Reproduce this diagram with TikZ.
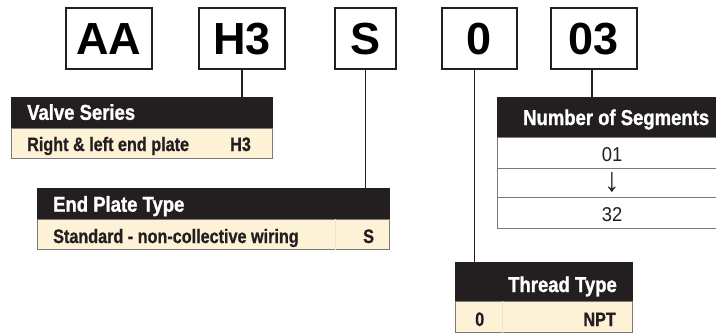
\documentclass[tikz,border=0pt]{standalone}
\usepackage{fontspec}
\setmainfont{Liberation Sans}
\newfontfamily\bigfont{Liberation Sans}
\newfontfamily\hdrfont{Liberation Sans}[FakeStretch=0.86,FakeBold=1.2]
\newfontfamily\rowfont{Liberation Sans}[FakeStretch=0.83,FakeBold=0.8]
\newfontfamily\numfont{Liberation Sans}[FakeStretch=0.92]
\definecolor{hdrblack}{HTML}{231F20}
\definecolor{cream}{HTML}{FDF1D6}
\definecolor{rowline}{HTML}{7A7A7A}
\definecolor{faint}{HTML}{EEE4CC}
\begin{document}
\begin{tikzpicture}[x=1pt,y=-1pt,
  codebox/.style={draw=hdrblack, line width=1.4pt, minimum height=61pt, inner sep=0pt,
    text height=32.4pt, text depth=0pt, font=\bigfont\bfseries\fontsize{45}{45}\selectfont},
  hdrbox/.style={fill=hdrblack, draw=hdrblack, line width=0.5pt, anchor=north west, inner sep=0pt},
  crow/.style={fill=cream, draw=rowline, line width=0.9pt, anchor=north west, inner sep=0pt},
  wrow/.style={fill=white, draw=rowline, line width=1.1pt, anchor=north west, inner sep=0pt},
  hdrtext/.style={text=white, inner sep=0pt, font=\hdrfont\bfseries\fontsize{21.5}{25}\selectfont},
  rowtext/.style={text=hdrblack, inner sep=0pt, font=\rowfont\bfseries\fontsize{19.5}{23}\selectfont},
  numtext/.style={text=hdrblack, inner sep=0pt, font=\numfont\fontsize{20}{24}\selectfont},
  conn/.style={draw=hdrblack, line width=1.8pt}]
\useasboundingbox (0,0) rectangle (716,333);

% code boxes
\node[codebox, minimum width=86pt] (bAA) at (109,38.5) {AA};
\node[codebox, minimum width=86pt] (bH3) at (242,38.5) {H3};
\node[codebox, minimum width=61pt] (bS) at (365.5,38.5) {S};
\node[codebox, minimum width=75pt] (b0) at (479.5,38.5) {0};
\node[codebox, minimum width=86pt] (b03) at (594,38.5) {03};

% Valve Series
\node[hdrbox, minimum width=261pt, minimum height=31pt] (vsH) at (11,97) {};
\node[crow, minimum width=261pt, minimum height=30pt] (vsR) at (11,128) {};
\node[hdrtext, anchor=base west] (vsT) at (27,119.8) {Valve Series};
\node[rowtext, anchor=base west] (vsA) at (27,151) {Right \& left end plate};
\node[rowtext, anchor=base west] (vsB) at (230,151) {H3};

% End Plate Type
\node[hdrbox, minimum width=352pt, minimum height=31pt] (epH) at (37,188) {};
\node[crow, minimum width=352pt, minimum height=30pt] (epR) at (37,219) {};
\coordinate (epD) at (335,219);
\draw[faint, line width=0.6pt] (epD) -- (epD |- epR.south);
\node[hdrtext, anchor=base west] (epT) at (53,211.7) {End Plate Type};
\node[rowtext, anchor=base west] (epA) at (53,243) {Standard - non-collective wiring};
\node[rowtext, anchor=base west] (epB) at (363,243) {S};

% Number of Segments
\node[hdrbox, minimum width=232pt, minimum height=40pt] (nsH) at (497,97) {};
\node[wrow, minimum width=232pt, minimum height=31pt] (ns1) at (497,137) {};
\node[wrow, minimum width=232pt, minimum height=29pt] (ns2) at (497,168) {};
\node[wrow, minimum width=232pt, minimum height=31pt] (ns3) at (497,197) {};
\node[hdrtext, anchor=base west] (nsT) at (523,125) {Number of Segments};
\node[numtext, anchor=base] (nsA) at (612,161) {01};
\node[text=hdrblack, inner sep=0pt, font=\numfont\fontsize{34}{34}\selectfont, anchor=center] (nsB) at (612,182.5) {↓};
\node[numtext, anchor=base] (nsC) at (612,221) {32};

% Thread Type
\node[hdrbox, minimum width=177pt, minimum height=39pt] (thH) at (455,262) {};
\node[crow, minimum width=177pt, minimum height=31pt] (thR) at (455,301) {};
\coordinate (thD) at (502,301);
\draw[faint, line width=0.6pt] (thD) -- (thD |- thR.south);
\node[hdrtext, anchor=base east] (thT) at (617,292) {Thread Type};
\node[rowtext, anchor=base west] (thA) at (475,326) {0};
\node[rowtext, anchor=base east] (thB) at (616,326) {NPT};

% connectors
\draw[conn] (bH3.south) -- (bH3.south |- vsH.north);
\draw[conn] (bS.south) -- (bS.south |- epH.north);
\draw[conn] ([xshift=-5pt]b0.south) -- ([xshift=-5pt]b0.south |- thH.north);
\draw[conn] ([xshift=-2pt]b03.south) -- ([xshift=-2pt]b03.south |- nsH.north);
\end{tikzpicture}
\end{document}
